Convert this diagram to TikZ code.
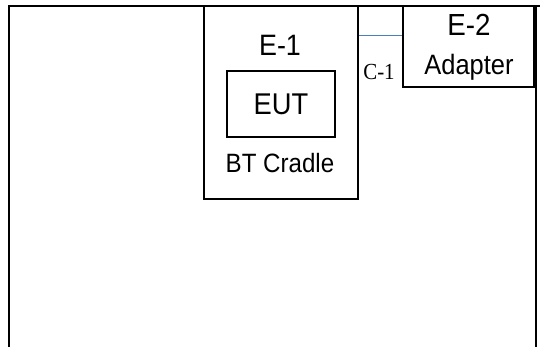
\documentclass[tikz,border=0pt]{standalone}
\usepackage{fontspec}
\setmainfont{Liberation Sans}
\newfontfamily\timesfont{Liberation Serif}
\definecolor{cablecol}{HTML}{4A7EBB}
\newcommand\narrowtext[1]{\scalebox{0.91}[1]{#1}}

\tikzset{
		box/.style={draw, line width=1.3pt, inner sep=0pt},
		frame/.style={black, line width=2pt},
		cable/.style={cablecol, line width=1.1pt},
		lbl/.style={inner sep=0pt, font=\fontsize{#1}{#1}\selectfont},
		cablelbl/.style={inner sep=0pt, font=\timesfont\fontsize{#1}{#1}\selectfont}
	}

\begin{document}
\begin{tikzpicture}[x=1pt, y=-1pt]

\useasboundingbox (0,0) rectangle (540,347);

\draw [frame] (9,347) -- (9,6) -- (540,6);
\draw [frame, line width=1.5pt] (536,6) -- (536,347);

\node (e1) at (281,102.5) [box, minimum width=154pt, minimum height=193pt] {};
\node (eut) at (281,104) [box, minimum width=108pt, minimum height=66pt] {};
\node (e2) at (468.5,46.5) [box, minimum width=131pt, minimum height=81pt] {};

\node (e1name) at (280,45) [lbl=29.5] {\narrowtext{E-1}};
\node (eutname) at (281,104) [lbl=30] {\narrowtext{EUT}};
\node (e1desc) at (280,163) [lbl=26.5] {\narrowtext{BT Cradle}};
\node (e2name) at (469,25) [lbl=30.5] {\narrowtext{E-2}};
\node (e2desc) at (469,67) [lbl=28] {\narrowtext{Adapter}};

\coordinate (cab) at (0,35.5);
\draw [cable] (e1.east |- cab) -- (e2.west |- cab);
\node (c1) at (379,72) [cablelbl=23] {\narrowtext{C-1}};

\end{tikzpicture}
\end{document}
